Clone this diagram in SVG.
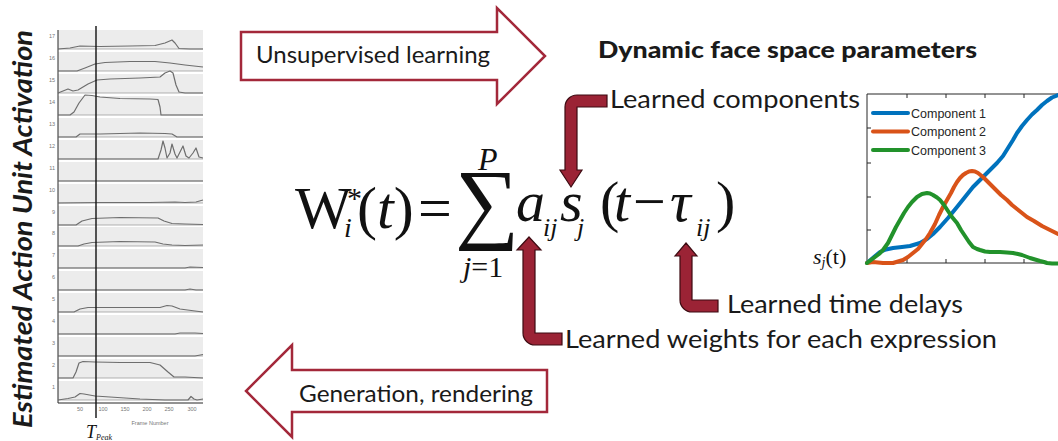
<svg xmlns="http://www.w3.org/2000/svg" width="1058" height="441" viewBox="0 0 1058 441">
<defs>
<style>
.sans{font-family:Lato,"Open Sans","Liberation Sans",sans-serif;fill:#1a1a1a}
.math{font-family:"Liberation Serif","Times New Roman",serif;fill:#111}
.it{font-style:italic}
.band{fill:#ececec}
.base{stroke:#a0a0a0;stroke-width:0.8;fill:none}
.au{stroke:#6e6e6e;stroke-width:1.2;fill:none;stroke-linejoin:round}
.tick{font-family:"Liberation Sans",Arial,sans-serif;font-size:5.5px;fill:#777}
.outline{fill:#fff;stroke:#a3283a;stroke-width:2.5;stroke-linejoin:miter}
.bent{fill:#9b2335;stroke:#3d0b12;stroke-width:1.2;stroke-linejoin:miter}
.curve{fill:none;stroke-width:4;stroke-linejoin:round;stroke-linecap:round}
.ax{stroke:#262626;stroke-width:1;fill:none}
.leg{font-family:"Liberation Sans",Arial,sans-serif;font-size:12.5px;fill:#262626}
</style>
</defs>
<rect width="1058" height="441" fill="#fff"/>

<g id="left-panel">
<text class="sans" transform="translate(32,229) rotate(-90)" text-anchor="middle" font-size="26" font-weight="bold" font-style="italic" textLength="398" lengthAdjust="spacingAndGlyphs">Estimated Action Unit Activation</text>
<g id="bands">
<rect class="band" x="58" y="30" width="145" height="19"/>
<rect class="band" x="58" y="52" width="145" height="19"/>
<rect class="band" x="58" y="74" width="145" height="19"/>
<rect class="band" x="58" y="96" width="145" height="19"/>
<rect class="band" x="58" y="118" width="145" height="19"/>
<rect class="band" x="58" y="140" width="145" height="19"/>
<rect class="band" x="58" y="162" width="145" height="19"/>
<rect class="band" x="58" y="184" width="145" height="19"/>
<rect class="band" x="58" y="206" width="145" height="19"/>
<rect class="band" x="58" y="227" width="145" height="19"/>
<rect class="band" x="58" y="249" width="145" height="19"/>
<rect class="band" x="58" y="271" width="145" height="19"/>
<rect class="band" x="58" y="293" width="145" height="19"/>
<rect class="band" x="58" y="315" width="145" height="19"/>
<rect class="band" x="58" y="337" width="145" height="19"/>
<rect class="band" x="58" y="359" width="145" height="19"/>
<rect class="band" x="58" y="381" width="145" height="19"/>
</g>
<path class="base" d="M58,49H203M58,71H203M58,93H203M58,115H203M58,137H203M58,159H203M58,181H203M58,203H203M58,225H203M58,246H203M58,268H203M58,290H203M58,312H203M58,334H203M58,356H203M58,378H203M58,400H203"/>
<path class="ax" stroke="#999" d="M58,30V403H203"/>
<g id="au-curves">
<path class="au" d="M58,49L70,48L80,46L100,46.5L130,46L155,45.5L165,43L172,40L175,43L179,48.5L190,49L203,49"/>
<path class="au" d="M58,71L77,71L85,68L95,64L105,62.5L130,61.5L155,61.5L170,63L185,65L203,67"/>
<path class="au" d="M58,93L63,91L68,89L73,91L78,90L88,84L97,80L110,79L140,78L160,77L165,73L170,71L173,73L176,85L179,92L185,93L203,93"/>
<path class="au" d="M58,115L70,115L74,112L79,103L85,95L92,95.5L100,97L120,98.5L150,99L158,99.5L160,107L161,115L203,115"/>
<path class="au" d="M58,137L76,137L80,134L100,134L140,133L165,133.5L172,134L177,137L203,137"/>
<path class="au" d="M58,159L158,159L161,150L163,141L165,148L167,158L170,153L172,144L175,154L177,158L180,152L183,146L186,156L189,158L193,153L196,148L199,157L203,158"/>
<path class="au" d="M58,181L203,181"/>
<path class="au" d="M58,203L100,202.5L150,202.5L175,202L185,202.5L196,202L203,200"/>
<path class="au" d="M58,225L76,225L82,221L92,218.5L120,217.5L158,218L164,221L172,223.5L185,224L203,224.5"/>
<path class="au" d="M58,246L78,246L84,244L92,242.5L120,241.5L155,242L163,244L172,245L185,245.5L203,245"/>
<path class="au" d="M58,268L185,268L190,267L203,267.5"/>
<path class="au" d="M58,290L185,290L190,289L196,290L203,290"/>
<path class="au" d="M58,312L74,312L80,309L88,307.5L120,307.5L160,307.5L167,305.5L172,306L180,309L195,311L203,312"/>
<path class="au" d="M58,334L175,334L180,333L195,333L203,333.5"/>
<path class="au" d="M58,356L195,356L203,354.5"/>
<path class="au" d="M58,378L73,378L76,372L79,363L83,361.5L95,362L120,362.5L150,362.5L160,365L168,372L174,377L185,377L203,378"/>
<path class="au" d="M58,400L68,398.5L75,397L80,393.5L84,394L95,396L110,397L140,399L165,400L188,400L191,396.5L194,399L197,400L203,399"/>
</g>
<path d="M96,26V418" stroke="#111" stroke-width="1.4"/>
<g id="au-ticks">
<text class="tick" x="55" y="38" text-anchor="end">17</text>
<text class="tick" x="55" y="60" text-anchor="end">16</text>
<text class="tick" x="55" y="82" text-anchor="end">15</text>
<text class="tick" x="55" y="104" text-anchor="end">14</text>
<text class="tick" x="55" y="126" text-anchor="end">13</text>
<text class="tick" x="55" y="148" text-anchor="end">12</text>
<text class="tick" x="55" y="170" text-anchor="end">11</text>
<text class="tick" x="55" y="192" text-anchor="end">10</text>
<text class="tick" x="55" y="214" text-anchor="end">9</text>
<text class="tick" x="55" y="235" text-anchor="end">8</text>
<text class="tick" x="55" y="257" text-anchor="end">7</text>
<text class="tick" x="55" y="279" text-anchor="end">6</text>
<text class="tick" x="55" y="301" text-anchor="end">5</text>
<text class="tick" x="55" y="323" text-anchor="end">4</text>
<text class="tick" x="55" y="345" text-anchor="end">3</text>
<text class="tick" x="55" y="367" text-anchor="end">2</text>
<text class="tick" x="55" y="389" text-anchor="end">1</text>
<text class="tick" x="80" y="411" text-anchor="middle">50</text>
<text class="tick" x="103" y="411" text-anchor="middle">100</text>
<text class="tick" x="125" y="411" text-anchor="middle">150</text>
<text class="tick" x="147" y="411" text-anchor="middle">200</text>
<text class="tick" x="169" y="411" text-anchor="middle">250</text>
<text class="tick" x="192" y="411" text-anchor="middle">300</text>
<text class="tick" x="150" y="425" text-anchor="middle" font-size="7.5">Frame Number</text>
</g>
<text font-family="'Liberation Serif', serif" font-style="italic" fill="#111" x="86" y="438" font-size="18">T<tspan font-size="8" dy="2">Peak</tspan></text>
</g>

<g id="arrow-unsupervised">
<path class="outline" d="M241,32H497V8L545,56L497,104V80H241Z"/>
<text class="sans" x="256" y="63" font-size="23" textLength="234" lengthAdjust="spacingAndGlyphs">Unsupervised learning</text>
</g>

<g id="arrow-generation">
<path class="outline" d="M547,370H292V345L246,391L292,437V412H547Z"/>
<text class="sans" x="299" y="402" font-size="23" textLength="234" lengthAdjust="spacingAndGlyphs">Generation, rendering</text>
</g>

<g id="title">
<text class="sans" x="598" y="58" font-size="22" font-weight="900" textLength="379" lengthAdjust="spacingAndGlyphs">Dynamic face space parameters</text>
</g>

<g id="formula" font-family="'Liberation Serif', 'Times New Roman', serif" fill="#111">
<text font-family="'Liberation Serif', serif" x="295" y="228" font-size="60">W</text>
<text font-family="'Liberation Serif', serif" font-style="italic" x="344" y="237" font-size="28">i</text>
<text font-family="'Liberation Serif', serif" x="347" y="208" font-size="30">*</text>
<text font-family="'Liberation Serif', serif" x="357" y="228" font-size="60">(<tspan font-style="italic">t</tspan>)</text>
<text font-family="'Liberation Serif', serif" x="418" y="228" font-size="60">=</text>
<text font-family="'Liberation Serif', serif" x="455" y="232" font-size="90">∑</text>
<text font-family="'Liberation Serif', serif" font-style="italic" x="478" y="170" font-size="32">P</text>
<text font-family="'Liberation Serif', serif" x="463" y="277" font-size="30"><tspan font-style="italic">j</tspan>=1</text>
<text font-family="'Liberation Serif', serif" font-style="italic" x="516" y="221" font-size="58">a</text>
<text font-family="'Liberation Serif', serif" font-style="italic" x="543" y="236" font-size="26">ij</text>
<text font-family="'Liberation Serif', serif" font-style="italic" x="560" y="221" font-size="58">s</text>
<text font-family="'Liberation Serif', serif" font-style="italic" x="577" y="236" font-size="26">j</text>
<text font-family="'Liberation Serif', serif" x="600" y="221" font-size="58">(</text>
<text font-family="'Liberation Serif', serif" font-style="italic" x="614" y="221" font-size="58">t</text>
<text font-family="'Liberation Serif', serif" x="633" y="221" font-size="58">−</text>
<text font-family="'Liberation Serif', serif" font-style="italic" x="670" y="221" font-size="58">τ</text>
<text font-family="'Liberation Serif', serif" font-style="italic" x="696" y="236" font-size="26">ij</text>
<text font-family="'Liberation Serif', serif" x="716" y="221" font-size="58">)</text>
</g>

<g id="connectors">
<path id="conn-components" class="bent" d="M607,95H577A12,12 0 0 0 565,107V170H560L571,187L582,170H577V107H607Z"/>
<path id="conn-weights" class="bent" d="M529,237L541,250H535V333H562V345H535A12,12 0 0 1 523,333V250H517Z"/>
<path id="conn-delays" class="bent" d="M686,243L697,256H692V300H718V312H692A12,12 0 0 1 680,300V256H675Z"/>
</g>

<g id="label-components">
<text class="sans" x="610" y="108" font-size="25" textLength="250" lengthAdjust="spacingAndGlyphs">Learned components</text>
</g>
<g id="label-delays">
<text class="sans" x="727" y="313" font-size="25" textLength="236" lengthAdjust="spacingAndGlyphs">Learned time delays</text>
</g>
<g id="label-weights">
<text class="sans" x="565" y="348" font-size="25" textLength="432" lengthAdjust="spacingAndGlyphs">Learned weights for each expression</text>
</g>

<g id="plot">
<path class="ax" d="M1058,94H867V263H1058"/>
<path class="ax" d="M867,128h4M867,163h4M867,197h4M867,230h4M907,263v-4M946,263v-4M985,263v-4M1024,263v-4M907,94v4M946,94v4M985,94v4M1024,94v4"/>
<path class="curve" stroke="#0072BD" d="M867,263L874,257L880,252L886,249.5L893,248L902,247L910,246L920,243L927,239L933,234L940,227L948,218L957,207L965,197L973,187L985,175L997,163L1003,156L1008,148L1013,140L1017,133L1022,126L1027,120L1032,114.5L1037,110L1042,105L1047,101L1052,97.5L1058,95"/>
<path class="curve" stroke="#D95319" d="M867,263L873,262L883,263L893,263L903,260L908,257L913,253L918,249L922,244L926,239L930,233L935,224L939,215L943,207L947,200L951,193L954,187L957,182L960,178L963,175L966,173L969,171.5L972,171L975,171.5L978,173L983,177L989,183L995,189L1001,195L1007,200L1012,205L1017,209L1022,213L1027,217L1034,221L1042,226L1050,230L1058,234"/>
<path class="curve" stroke="#22922b" d="M867,263L871,260L875,257L879,254L883,250L888,243L892,235L896,227L900,220L904,213L908,207L912,202L917,197L922,194L927,193L930,193.5L933,195L937,197.5L940,200L944,205L948,211L952,217L957,223L961,230L965,236L969,242L973,247L977,249L980,250L985,251.5L990,252L995,252L1000,252L1007,252.5L1013,253L1018,254L1022,255L1026,256.5L1030,258L1035,259.5L1040,261L1044,262L1047,263L1052,263.5L1058,263.5"/>
<path class="curve" stroke="#0072BD" d="M873,113H908"/>
<path class="curve" stroke="#D95319" d="M873,131.5H908"/>
<path class="curve" stroke="#22922b" d="M873,150H908"/>
<text class="leg" x="911" y="117.5">Component 1</text>
<text class="leg" x="911" y="136">Component 2</text>
<text class="leg" x="911" y="154.5">Component 3</text>
<text font-family="'Liberation Serif', serif" fill="#111" x="813" y="264" font-size="22"><tspan font-style="italic">s</tspan><tspan font-style="italic" font-size="14" dy="3">j</tspan><tspan dy="-3">(t)</tspan></text>
</g>
</svg>
